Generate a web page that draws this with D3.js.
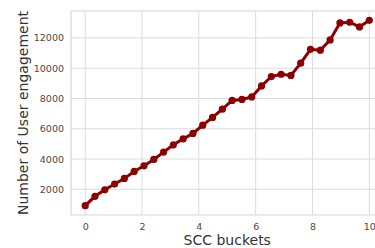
<!DOCTYPE html>
<html>
<head>
<meta charset="utf-8">
<script src="https://cdn.jsdelivr.net/npm/d3@7"></script>
<style>
  body { margin: 0; background: #fff; }
  svg text { font-family: "DejaVu Sans", sans-serif; }
</style>
</head>
<body>
<div id="chart"></div>
<script>
const width = 375;
const height = 248;
const margin = { top: 11, right: -8.5, bottom: 33, left: 71 };

// SCC bucket positions (30 evenly spaced points from 0 to 10)
const buckets = [0, 0.345, 0.69, 1.034, 1.379, 1.724, 2.069, 2.414, 2.759, 3.103,
  3.448, 3.793, 4.138, 4.483, 4.828, 5.172, 5.517, 5.862, 6.207, 6.552,
  6.897, 7.241, 7.586, 7.931, 8.276, 8.621, 8.966, 9.31, 9.655, 10];
const engagement = [920, 1540, 1970, 2350, 2720, 3185, 3555, 3975, 4460, 4940,
  5330, 5690, 6240, 6750, 7295, 7870, 7935, 8105, 8830, 9450,
  9600, 9520, 10330, 11250, 11190, 11870, 12990, 13035, 12725, 13165];
const xTicks = [0, 2, 4, 6, 8, 10];
const yTicks = [2000, 4000, 6000, 8000, 10000, 12000];

const points = buckets.map((b, i) => ({ x: b, y: engagement[i] }));

const svg = d3.select('#chart')
  .append('svg')
  .attr('width', width)
  .attr('height', height);

const x = d3.scaleLinear()
  .domain([-0.5, 10.5])
  .range([margin.left, width - margin.right]);

const y = d3.scaleLinear()
  .domain([305, 13778])
  .range([height - margin.bottom, margin.top]);

// gridlines
svg.append('g')
  .selectAll('line')
  .data(xTicks)
  .enter()
  .append('line')
  .attr('x1', d => x(d)).attr('x2', d => x(d))
  .attr('y1', margin.top).attr('y2', height - margin.bottom)
  .style('stroke', '#dcdcdc')
  .style('stroke-width', 1);

svg.append('g')
  .selectAll('line')
  .data(yTicks)
  .enter()
  .append('line')
  .attr('x1', margin.left).attr('x2', width)
  .attr('y1', d => y(d)).attr('y2', d => y(d))
  .style('stroke', '#dcdcdc')
  .style('stroke-width', 1);

// spines (top, left, bottom)
svg.append('line')
  .attr('x1', margin.left).attr('x2', width)
  .attr('y1', margin.top).attr('y2', margin.top)
  .style('stroke', '#d6d6d6').style('stroke-width', 1.2);
svg.append('line')
  .attr('x1', margin.left).attr('x2', width)
  .attr('y1', height - margin.bottom).attr('y2', height - margin.bottom)
  .style('stroke', '#d6d6d6').style('stroke-width', 1.2);
svg.append('line')
  .attr('x1', margin.left).attr('x2', margin.left)
  .attr('y1', margin.top).attr('y2', height - margin.bottom)
  .style('stroke', '#d6d6d6').style('stroke-width', 1.2);

// axes
const xAxis = svg.append('g')
  .attr('transform', `translate(0,${height - margin.bottom})`)
  .call(d3.axisBottom(x).tickValues(xTicks).tickSize(0).tickPadding(8));
const yAxis = svg.append('g')
  .attr('transform', `translate(${margin.left},0)`)
  .call(d3.axisLeft(y).tickValues(yTicks).tickSize(0).tickPadding(7).tickFormat(d3.format('d')));
[xAxis, yAxis].forEach(g => {
  g.select('.domain').remove();
  g.selectAll('text')
    .style('font-size', '9.5px')
    .style('fill', '#4a4a4a');
});

// line + markers
const line = d3.line().x(d => x(d.x)).y(d => y(d.y));
svg.append('path')
  .datum(points)
  .attr('d', line)
  .style('fill', 'none')
  .style('stroke', '#8b0000')
  .style('stroke-width', 3);

svg.selectAll('.point')
  .data(points)
  .enter()
  .append('circle')
  .attr('class', 'point')
  .attr('cx', d => x(d.x))
  .attr('cy', d => y(d.y))
  .attr('r', 3.6)
  .style('fill', '#8b0000');

// axis labels
svg.append('text')
  .attr('x', (margin.left + x(10.5)) / 2)
  .attr('y', 245)
  .attr('text-anchor', 'middle')
  .style('font-size', '14px')
  .style('fill', '#333')
  .text('SCC buckets');

svg.append('text')
  .attr('transform', `translate(28,${(margin.top + height - margin.bottom) / 2}) rotate(-90)`)
  .attr('text-anchor', 'middle')
  .style('font-size', '14px')
  .style('fill', '#333')
  .text('Number of User engagement');
</script>
</body>
</html>
